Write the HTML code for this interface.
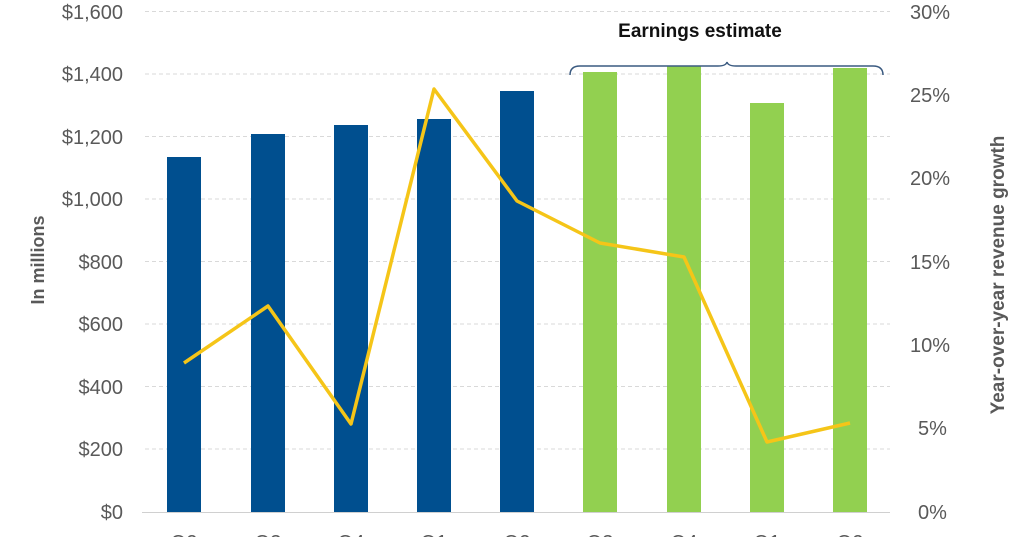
<!DOCTYPE html>
<html><head><meta charset="utf-8"><style>body{margin:0;background:#fff}svg{display:block}</style></head><body>
<svg width="1024" height="537" viewBox="0 0 1024 537" xmlns="http://www.w3.org/2000/svg" font-family="Liberation Sans, Arial, sans-serif">
<g stroke="#d9d9d9" stroke-width="1" stroke-dasharray="4,3">
<line x1="145" y1="11.5" x2="890" y2="11.5"/><line x1="145" y1="74" x2="890" y2="74"/><line x1="145" y1="136.5" x2="890" y2="136.5"/><line x1="145" y1="199" x2="890" y2="199"/><line x1="145" y1="261.5" x2="890" y2="261.5"/><line x1="145" y1="324" x2="890" y2="324"/><line x1="145" y1="386.5" x2="890" y2="386.5"/><line x1="145" y1="449" x2="890" y2="449"/>
</g>
<line x1="142" y1="512.5" x2="890" y2="512.5" stroke="#d0d0d0"/>
<g fill="#004f8f">
<rect x="167" y="157" width="34" height="355"/><rect x="251" y="134" width="34" height="378"/><rect x="334" y="125" width="34" height="387"/><rect x="417" y="119" width="34" height="393"/><rect x="500" y="91" width="34" height="421"/>
</g>
<g fill="#92d050">
<rect x="583" y="72" width="34" height="440"/><rect x="667" y="66" width="34" height="446"/><rect x="750" y="103" width="34" height="409"/><rect x="833" y="68" width="34" height="444"/>
</g>
<polyline points="184,363 268,306 351,424 434,89 517,201 600,243 684,257 767,442 850,423" fill="none" stroke="#f5c518" stroke-width="3.5" stroke-linejoin="round"/>
<path d="M570,75 Q570,66 580,66 L718,66 Q726,66 727,62 Q728,66 736,66 L873,66 Q883,66 883,75" fill="none" stroke="#3a5a80" stroke-width="1.5"/>
<text x="700" y="37" text-anchor="middle" font-size="19" font-weight="bold" fill="#111">Earnings estimate</text>
<g font-size="20" fill="#595959" text-anchor="end">
<text x="123" y="19">$1,600</text><text x="123" y="81">$1,400</text><text x="123" y="144">$1,200</text><text x="123" y="206">$1,000</text><text x="123" y="269">$800</text><text x="123" y="331">$600</text><text x="123" y="394">$400</text><text x="123" y="456">$200</text><text x="123" y="519">$0</text>
</g>
<g font-size="20" fill="#595959" text-anchor="start">
<text x="910" y="19">30%</text><text x="910" y="102">25%</text><text x="910" y="185">20%</text><text x="910" y="269">15%</text><text x="910" y="352">10%</text><text x="918" y="435">5%</text><text x="918" y="519">0%</text>
</g>
<g font-size="20" fill="#595959" text-anchor="middle">
<text x="184" y="549">Q2</text><text x="268" y="549">Q3</text><text x="351" y="549">Q4</text><text x="434" y="549">Q1</text><text x="517" y="549">Q2</text><text x="600" y="549">Q3</text><text x="684" y="549">Q4</text><text x="767" y="549">Q1</text><text x="850" y="549">Q2</text>
</g>
<text transform="translate(44,260) rotate(-90)" text-anchor="middle" font-size="18" font-weight="bold" fill="#595959">In millions</text>
<text transform="translate(1004,275) rotate(-90)" text-anchor="middle" font-size="19" font-weight="bold" fill="#595959">Year-over-year revenue growth</text>
</svg>
</body></html>
